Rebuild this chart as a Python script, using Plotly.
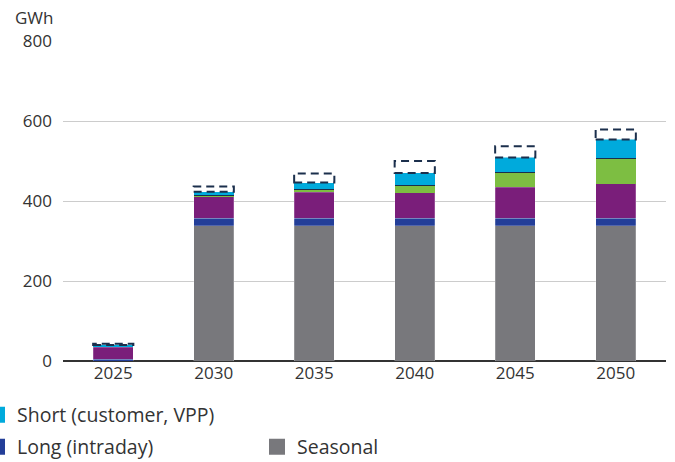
import plotly.graph_objects as go
import numpy as np

years = ["2025", "2030", "2035", "2040", "2045", "2050"]
seasonal = [0, 338, 338, 338, 338, 338]
long_intraday = [5, 19, 19, 19, 19, 19]
medium = [30, 54, 65, 64, 77, 86]
green_part = [0, 2, 6, 17, 36, 62]
dark_part = [1, 2, 2, 2, 2, 2]
short_cust = [4, 8, 16, 30, 37, 47]
potential = [3, 13, 23, 30, 28, 25]

C_GRAY = "#78787c"
C_BLUE = "#233e98"
C_PURPLE = "#7a1e7a"
C_GREEN = "#7dbe42"
C_DARK = "#1b2f4c"
C_CYAN = "#00aadc"

FONT = "Open Sans"
xs = list(range(len(years)))
W = 0.4

fig = go.Figure()
line = dict(color="rgba(255,255,255,0.35)", width=0.6)
fig.add_trace(go.Bar(x=xs, y=seasonal, name="Seasonal", marker=dict(color=C_GRAY, line=line), width=W, showlegend=False))
fig.add_trace(go.Bar(x=xs, y=long_intraday, name="Long (intraday)", marker=dict(color=C_BLUE, line=line), width=W, showlegend=False))
fig.add_trace(go.Bar(x=xs, y=medium, name="Medium", marker=dict(color=C_PURPLE, line=line), width=W, showlegend=False))
fig.add_trace(go.Bar(x=xs, y=green_part, name="Other", marker=dict(color=C_GREEN, line=dict(width=0)), width=W, showlegend=False))
fig.add_trace(go.Bar(x=xs, y=dark_part, name="Dark", marker=dict(color=C_DARK, line=dict(width=0)), width=W, showlegend=False))
fig.add_trace(go.Bar(x=xs, y=short_cust, name="Short (customer, VPP)", marker=dict(color=C_CYAN, line=dict(width=0)), width=W, showlegend=False))

# legend entries (larger square symbols)
for name, color, lg in [("Short (customer, VPP)", C_CYAN, "legend"),
                        ("Long (intraday)", C_BLUE, "legend2"),
                        ("Seasonal", C_GRAY, "legend3")]:
    fig.add_trace(go.Scatter(x=[None], y=[None], mode="markers", name=name,
                             marker=dict(symbol="square", size=16, color=color),
                             legend=lg, showlegend=True))

# dashed potential boxes on top of stacks
base = np.array(seasonal) + np.array(long_intraday) + np.array(medium) + np.array(green_part) + np.array(dark_part) + np.array(short_cust)
for i, (b, p) in enumerate(zip(base, potential)):
    fig.add_shape(type="rect", xref="x", yref="y", x0=xs[i] - W / 2, x1=xs[i] + W / 2,
                  y0=float(b), y1=float(b + p), fillcolor="white",
                  line=dict(color=C_DARK, width=2, dash="8px,5px"), layer="above")

PL, PW = 63, 603
legend_common = dict(font=dict(family=FONT, size=19.5, color="#333333"), bgcolor="rgba(0,0,0,0)",
                     xref="paper", yref="container", yanchor="middle", xanchor="left",
                     itemwidth=30, orientation="v")
fig.update_layout(
    barmode="stack",
    width=675, height=462,
    margin=dict(l=63, r=9, t=41, b=101, autoexpand=False),
    plot_bgcolor="white", paper_bgcolor="white",
    font=dict(family=FONT, size=17, color="#333333"),
    xaxis=dict(range=[-0.5, 5.5], tickmode="array", tickvals=xs, ticktext=years,
               showgrid=False, zeroline=False, showline=False, ticks="",
               tickfont=dict(family=FONT, size=17, color="#333333")),
    yaxis=dict(range=[0, 800], tickvals=[0, 200, 400, 600, 800], showgrid=True,
               gridcolor="#cccccc", gridwidth=1, zeroline=True, zerolinecolor="#333333",
               zerolinewidth=1.5, ticks="", ticklabelstandoff=10,
               tickfont=dict(family=FONT, size=17, color="#333333")),
    legend=dict(**legend_common, x=(-23 - PL) / PW, y=1 - 415 / 462),
    legend2=dict(**legend_common, x=(-23 - PL) / PW, y=1 - 447 / 462),
    legend3=dict(**legend_common, x=(257 - PL) / PW, y=1 - 447 / 462),
    annotations=[dict(text="GWh", xref="paper", yref="paper", x=(34 - PL) / PW, y=1 + (41 - 17) / 320,
                      xanchor="center", yanchor="middle", showarrow=False,
                      font=dict(family=FONT, size=17, color="#333333"))],
    bargap=0.6,
)

fig.write_html("out.html", config={"displayModeBar": False},
               post_script="document.body.style.margin='0';")
